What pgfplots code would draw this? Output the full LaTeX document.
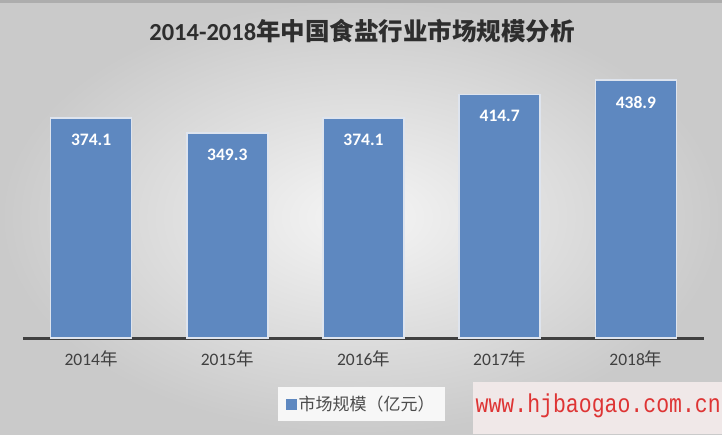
\documentclass[border=0pt]{standalone}
\usepackage{pgfplots}
\pgfplotsset{compat=1.18}
\usepackage{fontspec}
\setmainfont{Carlito}
\newfontfamily\cjk{Noto Sans CJK SC}
\newfontfamily\monofont{Liberation Mono}
\definecolor{barblue}{RGB}{94,136,192}
\definecolor{baredge}{RGB}{222,228,238}
\definecolor{axisdark}{RGB}{64,64,64}
\definecolor{labelgray}{RGB}{64,64,64}
\definecolor{bgout}{RGB}{202,202,202}
\definecolor{bgin}{RGB}{245,245,245}
\definecolor{wmred}{RGB}{222,52,52}
\definecolor{wmbox}{RGB}{240,232,232}

\begin{document}
\begin{tikzpicture}[x=1pt,y=1pt]
% background
\useasboundingbox (0,0) rectangle (722,434);
\shade[inner color=bgin, outer color=bgout] (0,0) rectangle (722,434);
\fill[black!32] (0,431) rectangle (722,434);

% title
\node[font=\fontsize{24.5}{28}\selectfont\bfseries, text=black!82] at (362,403)
  {2014-2018{\cjk 年中国食盐行业市场规模分析}};

\begin{axis}[
    at={(23pt,96pt)}, anchor=south west,
    scale only axis,
    width=681pt, height=282pt,
    xmin=-0.5, xmax=4.5,
    ymin=0, ymax=480,
    axis y line=none,
    axis x line*=bottom,
    x axis line style={axisdark, line width=3pt, -},
    xtick=data,
    xticklabels={2014{\cjk 年},2015{\cjk 年},2016{\cjk 年},2017{\cjk 年},2018{\cjk 年}},
    xtick style={draw=none},
    xticklabel style={font=\fontsize{17.5}{20}\selectfont, text=labelgray, yshift=-5pt},
    ybar, bar width=81pt,
    clip=false,
    nodes near coords,
    nodes near coords style={font=\fontsize{17.5}{20}\selectfont\bfseries, text=white,
        anchor=center, yshift=-22pt,
        /pgf/number format/fixed, /pgf/number format/fixed zerofill,
        /pgf/number format/precision=1, /pgf/number format/assume math mode=true},
    legend style={at={(0.497,-0.235)}, anchor=center, fill=white!94!gray, draw=none,
        font=\fontsize{17}{20}\selectfont\cjk, text=black!70,
        inner xsep=8pt, inner ysep=7pt},
    legend image code/.code={\fill[barblue] (0pt,-4.5pt) rectangle (9pt,4.5pt);},
]
\addplot[fill=barblue, draw=baredge, line width=1.5pt] coordinates {
    (0,374.1) (1,349.3) (2,374.1) (3,414.7) (4,438.9)
};
\legend{市场规模（亿元）}
\end{axis}

% watermark
\fill[wmbox] (473,0) rectangle (722,52);
\node[font=\fontsize{21.5}{24}\selectfont\monofont, text=wmred, anchor=east, inner sep=1pt] at (722,28)
  {\scalebox{1}[1.2]{www.hjbaogao.com.cn}};
\end{tikzpicture}
\end{document}
